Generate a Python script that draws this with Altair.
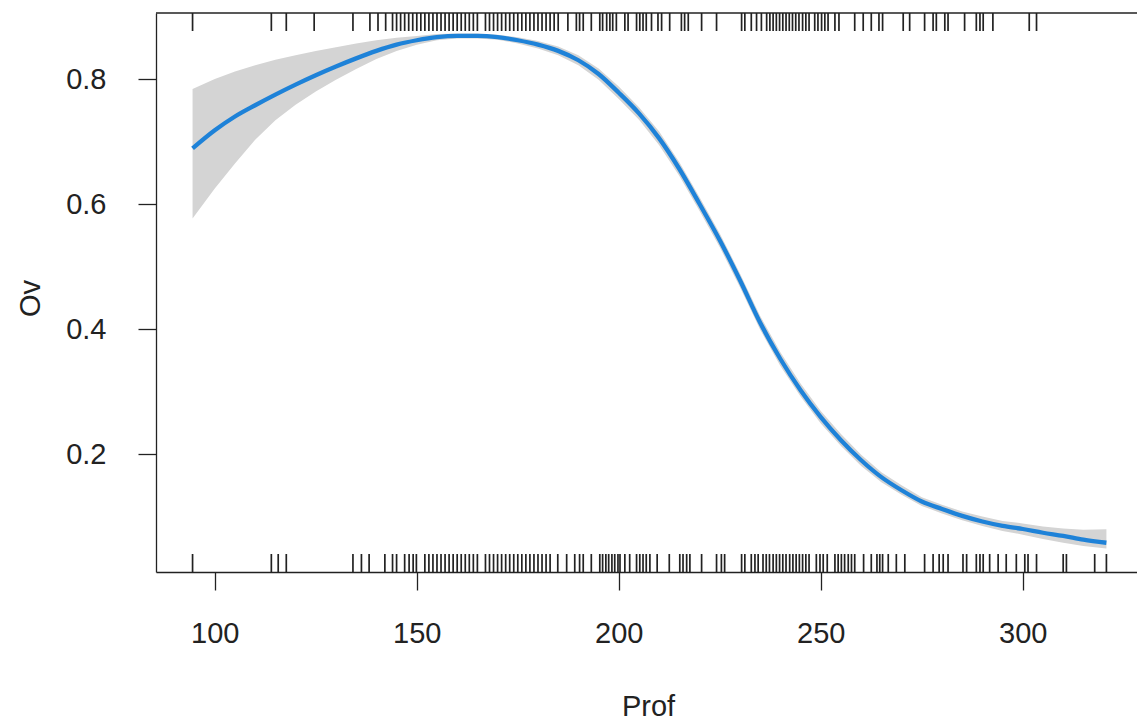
import altair as alt
import pandas as pd

# ---- fitted effect curve (Prof -> Ov) ----
curve_prof = [94.5, 100, 105, 110, 115, 120, 125, 130, 135, 140, 145, 150, 155, 160, 165,
              170, 175, 180, 185, 190, 195, 200, 205, 210, 215, 220, 225, 230, 235, 240,
              245, 250, 255, 260, 265, 270, 275, 280, 285, 290, 295, 300, 305, 310, 315, 320.7]
curve_fit = [0.689, 0.718, 0.740, 0.758, 0.775, 0.791, 0.806, 0.820, 0.833, 0.845, 0.855,
             0.862, 0.867, 0.869, 0.869, 0.867, 0.862, 0.855, 0.845, 0.830, 0.808, 0.778,
             0.745, 0.705, 0.656, 0.600, 0.542, 0.478, 0.410, 0.352, 0.302, 0.259, 0.222,
             0.190, 0.163, 0.142, 0.124, 0.112, 0.101, 0.092, 0.085, 0.080, 0.074, 0.069,
             0.063, 0.058]
band_lo = [0.577, 0.625, 0.665, 0.703, 0.734, 0.759, 0.780, 0.799, 0.816, 0.832, 0.845,
           0.855, 0.862, 0.865, 0.865, 0.863, 0.857, 0.849, 0.838, 0.822, 0.799, 0.768,
           0.735, 0.694, 0.645, 0.589, 0.531, 0.467, 0.399, 0.341, 0.292, 0.249, 0.213,
           0.181, 0.155, 0.135, 0.117, 0.105, 0.094, 0.085, 0.077, 0.071, 0.064, 0.058,
           0.053, 0.049]
band_hi = [0.784, 0.800, 0.812, 0.822, 0.831, 0.838, 0.845, 0.851, 0.857, 0.862, 0.866,
           0.869, 0.872, 0.873, 0.873, 0.871, 0.867, 0.861, 0.852, 0.838, 0.817, 0.788,
           0.755, 0.716, 0.667, 0.611, 0.553, 0.489, 0.421, 0.363, 0.313, 0.269, 0.232,
           0.199, 0.171, 0.150, 0.131, 0.119, 0.108, 0.100, 0.093, 0.089, 0.084, 0.081,
           0.079, 0.0795]

# ---- rug: observations (top = Ov 1, bottom = Ov 0) ----
rug_top = [94.5, 114.0, 117.7, 124.6, 134.2, 138.4, 140.4, 142.3, 144.0, 145.0,
           146, 147, 148, 149, 150, 151, 152, 153, 154, 155, 156, 157, 158, 159, 160,
           161, 162, 163, 164, 165, 167, 168, 169, 170, 171, 172, 173, 174, 175, 176,
           177, 178, 179, 180, 181, 182, 183, 184, 185,
           187.4, 189.5, 190.3, 191.2, 193.2, 195.3, 196.0, 197.0, 197.8, 198.5, 199.4,
           201.5, 202.3, 204.4, 205.2, 206.0, 206.8, 208.1, 209.7, 210.6, 212.6, 215.5,
           216.3, 217.2, 220.5, 224.2, 230.4, 231.2, 232.8, 234.1, 235.3, 236.6, 237.4,
           238.2, 239.0, 239.8, 240.6, 241.4, 242.2, 243.0, 243.8, 244.6, 245.5, 246.3,
           247.1, 248.5, 249.3, 250.2, 251.0, 251.8, 253.5, 254.5, 258.4, 260.5, 262.5,
           264.4, 265.3, 270.4, 272.0, 275.7, 277.8, 278.6, 280.7, 281.5, 285.6, 288.5,
           289.4, 290.2, 292.6, 301.6, 303.4]
rug_bottom = [94.5, 114.0, 115.7, 117.7, 134.2, 136.3, 138.2, 142.1, 144.0, 145.0,
              147.0, 148.1, 149.1, 149.9,
              152, 153, 154, 155, 156, 157, 158, 159, 160, 161, 162, 163, 164, 165,
              167, 168, 169, 170, 171, 172, 173, 174, 175, 176, 177, 178, 179, 180,
              181, 182, 183, 184.9, 187.1, 189.1, 190.3, 191.2, 193.2,
              195.3, 196.0, 196.8, 197.5, 198.3, 199.0, 199.8, 200.3, 201.5, 202.7,
              204.4, 205.2, 206.0, 206.8, 207.7, 209.5, 212.5, 215.1, 215.9, 216.8,
              217.6, 220.5, 224.2, 225.4, 226.2, 230.4, 231.2, 232.8, 233.7, 234.5,
              235.7, 236.5, 237.3, 238.2, 239.0, 239.8, 240.6, 241.4, 242.3, 243.1,
              243.9, 244.7, 245.5, 246.3, 247.1, 248.9, 249.8, 250.6, 251.6, 253.5,
              254.3, 255.1, 255.9, 256.8, 257.6, 258.4, 260.6, 262.5, 263.9, 264.6,
              265.3, 266.7, 268.7, 270.8, 275.7, 277.8, 279.3, 280.3, 281.5, 285.2,
              286.1, 288.5, 289.4, 290.2, 291.8, 293.9, 295.9, 298.4, 300.5, 301.3,
              303.4, 310.0, 310.8, 317.8, 320.7]

x_ticks = [100, 150, 200, 250, 300]
y_ticks = [0.2, 0.4, 0.6, 0.8]

W, H = 981, 559
X_DOMAIN = [85.45, 85.45 + W / 4.04]
Y_DOMAIN = [0.0112, 0.9056]
FONT = "Liberation Sans"
FS = 29
RUG_LEN = 18

curve = pd.DataFrame({"Prof": curve_prof, "Ov": curve_fit, "lo": band_lo, "hi": band_hi})
top_df = pd.DataFrame({"Prof": rug_top})
bot_df = pd.DataFrame({"Prof": rug_bottom})

xscale = alt.Scale(domain=X_DOMAIN, nice=False, zero=False)
yscale = alt.Scale(domain=Y_DOMAIN, nice=False, zero=False)

xaxis = alt.Axis(values=x_ticks, title="Prof", grid=False, tickSize=18, tickWidth=1.3,
                 tickColor="#222", domainColor="#222", domainWidth=1.3,
                 labelFontSize=FS, labelFont=FONT, labelColor="#222", labelPadding=29,
                 titleFont=FONT, titleFontSize=FS, titleFontWeight="normal", titleColor="#222",
                 titleX=492, titleY=134, titleBaseline="middle", titleAlign="center",
                 labelFlush=False)
yaxis = alt.Axis(values=y_ticks, title="Ov", grid=False, tickSize=18, tickWidth=1.3,
                 tickColor="#222", domainColor="#222", domainWidth=1.3, format=".1f",
                 labelFontSize=FS, labelFont=FONT, labelColor="#222", labelPadding=32,
                 titleFont=FONT, titleFontSize=FS, titleFontWeight="normal", titleColor="#222",
                 titleX=-126, titleY=285, titleBaseline="middle", titleAlign="center",
                 labelFlush=False)

band = alt.Chart(curve).mark_area(color="#d4d4d4", opacity=1).encode(
    x=alt.X("Prof:Q", scale=xscale, axis=xaxis),
    y=alt.Y("lo:Q", scale=yscale, axis=yaxis),
    y2="hi:Q",
)
line = alt.Chart(curve).mark_line(color="#1e82d8", strokeWidth=4.3, interpolate="monotone").encode(
    x=alt.X("Prof:Q", scale=xscale),
    y=alt.Y("Ov:Q", scale=yscale),
)
top_rug = alt.Chart(top_df).mark_rule(color="#222", strokeWidth=1.7).encode(
    x=alt.X("Prof:Q", scale=xscale),
    y=alt.value(0),
    y2=alt.value(RUG_LEN),
)
bot_rug = alt.Chart(bot_df).mark_rule(color="#222", strokeWidth=1.7).encode(
    x=alt.X("Prof:Q", scale=xscale),
    y=alt.value(H - RUG_LEN),
    y2=alt.value(H),
)
top_border = alt.Chart(pd.DataFrame({"k": [0]})).mark_rule(color="#222", strokeWidth=1.3).encode(
    x=alt.value(0), x2=alt.value(W), y=alt.value(0)
)

chart = alt.layer(band, line, top_rug, bot_rug, top_border).properties(
    width=W, height=H,
    autosize=alt.AutoSizeParams(type="none"),
    padding={"left": 156, "top": 13, "right": 0, "bottom": 721 - 13 - H},
    background="white",
).configure_view(stroke=None)

chart.save("out.html", embed_options={"renderer": "svg", "actions": False})
